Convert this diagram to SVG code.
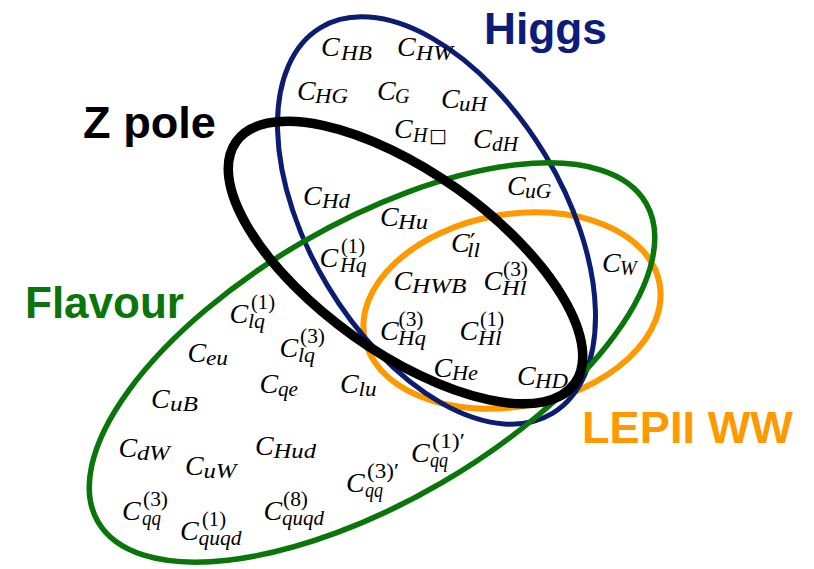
<svg xmlns="http://www.w3.org/2000/svg" width="814" height="569" viewBox="0 0 814 569">
<style>
.c{font-family:"Liberation Serif","Times New Roman",serif;font-style:italic;font-size:28px;fill:#000}
.s{font-style:italic;font-size:20px}
.p{font-style:normal;font-size:20px}
.t{font-family:"Liberation Sans",Arial,sans-serif;font-weight:bold;font-size:44px}
.e{fill:none}
</style>
<g id="sets">
<g id="lep"><ellipse class="e" cx="512" cy="310.5" rx="150" ry="96" transform="rotate(-10.3 512 310.5)" stroke="#ff9900" stroke-width="6"/></g>
<g id="higgs"><ellipse class="e" cx="436.5" cy="220.5" rx="225" ry="127" transform="rotate(59 436.5 220.5)" stroke="#0c1c70" stroke-width="5"/></g>
<g id="flavour"><ellipse class="e" cx="372" cy="362.5" rx="317" ry="139" transform="rotate(-30.2 372 362.5)" stroke="#0a760a" stroke-width="5.5"/></g>
<g id="zpole"><ellipse class="e" cx="405.5" cy="262.5" rx="208" ry="90" transform="rotate(35.5 405.5 262.5)" stroke="#000" stroke-width="9.5"/></g>
</g>
<g id="titles">
<text class="t" x="484" y="44" fill="#0c1c78" textLength="123" lengthAdjust="spacingAndGlyphs">Higgs</text>
<text class="t" x="83" y="138" fill="#000" textLength="133" lengthAdjust="spacingAndGlyphs">Z pole</text>
<text class="t" x="25" y="318" fill="#0a760a" textLength="159" lengthAdjust="spacingAndGlyphs">Flavour</text>
<text class="t" x="582" y="443" fill="#ff9900" textLength="211" lengthAdjust="spacingAndGlyphs">LEPII WW</text>
</g>
<g id="labels">
<g id="CHB"><text class="c" x="321" y="56">C<tspan class="s" x="341" y="59.5" textLength="31" lengthAdjust="spacingAndGlyphs">HB</tspan></text></g>
<g id="CHW"><text class="c" x="397" y="56">C<tspan class="s" x="416" y="59.5" textLength="37" lengthAdjust="spacingAndGlyphs">HW</tspan></text></g>
<g id="CHG"><text class="c" x="297" y="100">C<tspan class="s" x="315" y="103" textLength="33" lengthAdjust="spacingAndGlyphs">HG</tspan></text></g>
<g id="CG"><text class="c" x="377" y="100">C<tspan class="s" x="395" y="103">G</tspan></text></g>
<g id="CuH"><text class="c" x="441" y="108">C<tspan class="s" x="459" y="111" textLength="28" lengthAdjust="spacingAndGlyphs">uH</tspan></text></g>
<g id="CHbox"><text class="c" x="394" y="138">C<tspan class="s" x="413" y="141.5">H</tspan><tspan x="429" y="141.5" font-style="normal" font-family="'DejaVu Sans',sans-serif" font-size="19">□</tspan></text></g>
<g id="CdH"><text class="c" x="473" y="148">C<tspan class="s" x="492" y="151" textLength="26" lengthAdjust="spacingAndGlyphs">dH</tspan></text></g>
<g id="CHd"><text class="c" x="303" y="205">C<tspan class="s" x="322" y="208" textLength="28" lengthAdjust="spacingAndGlyphs">Hd</tspan></text></g>
<g id="CuG"><text class="c" x="507" y="195">C<tspan class="s" x="525" y="198" textLength="26.5" lengthAdjust="spacingAndGlyphs">uG</tspan></text></g>
<g id="CHu"><text class="c" x="380" y="226">C<tspan class="s" x="398" y="229" textLength="30" lengthAdjust="spacingAndGlyphs">Hu</tspan></text></g>
<g id="Cllp"><text class="c" x="451" y="251.5">C<tspan x="470" y="251" font-style="normal" font-family="'DejaVu Sans',sans-serif" font-size="24">′</tspan><tspan class="s" x="467" y="256.5" textLength="13" lengthAdjust="spacingAndGlyphs">ll</tspan></text></g>
<g id="CHq1"><text class="c" x="319.5" y="266.5">C<tspan class="p" x="341" y="252.5" textLength="24" lengthAdjust="spacingAndGlyphs">(1)</tspan><tspan class="s" x="340" y="271.5" textLength="26.5" lengthAdjust="spacingAndGlyphs">Hq</tspan></text></g>
<g id="CHWB"><text class="c" x="393.5" y="290">C<tspan class="s" x="412" y="293" textLength="54.5" lengthAdjust="spacingAndGlyphs">HWB</tspan></text></g>
<g id="CHl3"><text class="c" x="483.5" y="290">C<tspan class="p" x="503" y="276" textLength="25" lengthAdjust="spacingAndGlyphs">(3)</tspan><tspan class="s" x="502" y="295" textLength="24.5" lengthAdjust="spacingAndGlyphs">Hl</tspan></text></g>
<g id="CHq3"><text class="c" x="380" y="340">C<tspan class="p" x="398.5" y="326" textLength="25" lengthAdjust="spacingAndGlyphs">(3)</tspan><tspan class="s" x="398" y="345" textLength="28" lengthAdjust="spacingAndGlyphs">Hq</tspan></text></g>
<g id="CHl1"><text class="c" x="459.5" y="340">C<tspan class="p" x="480" y="326" textLength="24" lengthAdjust="spacingAndGlyphs">(1)</tspan><tspan class="s" x="478" y="345" textLength="23.5" lengthAdjust="spacingAndGlyphs">Hl</tspan></text></g>
<g id="CHe"><text class="c" x="433.5" y="376.5">C<tspan class="s" x="452" y="379.5" textLength="26" lengthAdjust="spacingAndGlyphs">He</tspan></text></g>
<g id="CHD"><text class="c" x="517" y="385">C<tspan class="s" x="535" y="388" textLength="33" lengthAdjust="spacingAndGlyphs">HD</tspan></text></g>
<g id="Clu"><text class="c" x="340" y="393">C<tspan class="s" x="358.5" y="396" textLength="18" lengthAdjust="spacingAndGlyphs">lu</tspan></text></g>
<g id="CW"><text class="c" x="602" y="271.5">C<tspan class="s" x="620" y="274.5">W</tspan></text></g>
<g id="Clq1"><text class="c" x="229.5" y="322.5">C<tspan class="p" x="251" y="308.5" textLength="24" lengthAdjust="spacingAndGlyphs">(1)</tspan><tspan class="s" x="248" y="327.5" textLength="17" lengthAdjust="spacingAndGlyphs">lq</tspan></text></g>
<g id="Ceu"><text class="c" x="187.5" y="361.5">C<tspan class="s" x="206" y="364.5" textLength="22" lengthAdjust="spacingAndGlyphs">eu</tspan></text></g>
<g id="Clq3"><text class="c" x="279.5" y="356.5">C<tspan class="p" x="300" y="342.5" textLength="25" lengthAdjust="spacingAndGlyphs">(3)</tspan><tspan class="s" x="298" y="361.5" textLength="17" lengthAdjust="spacingAndGlyphs">lq</tspan></text></g>
<g id="Cqe"><text class="c" x="259.5" y="392.5">C<tspan class="s" x="278" y="395.5" textLength="20" lengthAdjust="spacingAndGlyphs">qe</tspan></text></g>
<g id="CuB"><text class="c" x="151" y="408">C<tspan class="s" x="170" y="411" textLength="28" lengthAdjust="spacingAndGlyphs">uB</tspan></text></g>
<g id="CdW"><text class="c" x="118.5" y="457">C<tspan class="s" x="137" y="460" textLength="33" lengthAdjust="spacingAndGlyphs">dW</tspan></text></g>
<g id="CuW"><text class="c" x="185" y="475">C<tspan class="s" x="203.5" y="478" textLength="33" lengthAdjust="spacingAndGlyphs">uW</tspan></text></g>
<g id="CHud"><text class="c" x="255" y="455">C<tspan class="s" x="273.5" y="458" textLength="42.5" lengthAdjust="spacingAndGlyphs">Hud</tspan></text></g>
<g id="Cqq1p"><text class="c" x="411" y="461.5">C<tspan class="p" x="432" y="447.5" textLength="33" lengthAdjust="spacingAndGlyphs">(1)′</tspan><tspan class="s" x="430" y="466.5" textLength="18" lengthAdjust="spacingAndGlyphs">qq</tspan></text></g>
<g id="Cqq3p"><text class="c" x="346" y="491.5">C<tspan class="p" x="367" y="477.5" textLength="32" lengthAdjust="spacingAndGlyphs">(3)′</tspan><tspan class="s" x="365" y="496.5" textLength="18" lengthAdjust="spacingAndGlyphs">qq</tspan></text></g>
<g id="Cqq3"><text class="c" x="122" y="520">C<tspan class="p" x="143" y="506" textLength="25" lengthAdjust="spacingAndGlyphs">(3)</tspan><tspan class="s" x="142" y="525" textLength="19" lengthAdjust="spacingAndGlyphs">qq</tspan></text></g>
<g id="Cquqd1"><text class="c" x="180" y="540">C<tspan class="p" x="202" y="526" textLength="24" lengthAdjust="spacingAndGlyphs">(1)</tspan><tspan class="s" x="198.5" y="545" textLength="43" lengthAdjust="spacingAndGlyphs">quqd</tspan></text></g>
<g id="Cquqd8"><text class="c" x="263.5" y="520">C<tspan class="p" x="283" y="506" textLength="25" lengthAdjust="spacingAndGlyphs">(8)</tspan><tspan class="s" x="282" y="525" textLength="42" lengthAdjust="spacingAndGlyphs">quqd</tspan></text></g>
</g>
</svg>
